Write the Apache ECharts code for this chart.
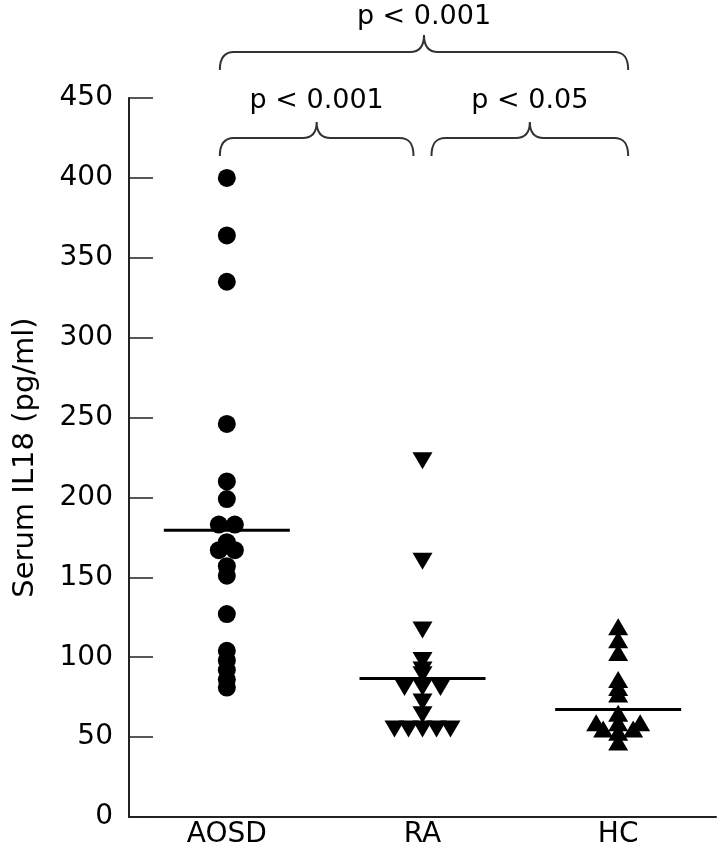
<!DOCTYPE html>
<html>
<head>
<meta charset="utf-8">
<script src="https://cdn.jsdelivr.net/npm/echarts@6/dist/echarts.min.js"></script>
<style>
  html, body { margin: 0; padding: 0; background: #fff; }
  #main { width: 722px; height: 853px; }
</style>
</head>
<body>
<div id="main"></div>
<script>
// groups on the x axis
var groups = ['AOSD', 'RA', 'HC'];
var yTicks = [0, 50, 100, 150, 200, 250, 300, 350, 400, 450];

// serum IL18 per patient (pg/ml)
var aosdVals = [400, 364, 335, 246, 210, 199, 183, 183, 172, 167, 167, 157, 151, 127, 104, 98, 92, 86, 81];
var raVals = [223, 160, 117, 98, 92, 89, 81, 81, 81, 72, 64, 55, 55, 55, 55, 55];
var hcVals = [119, 111, 103, 86, 81, 77, 65, 59, 53, 47, 59, 55, 55, 59];

// side-by-side spread of overlapping points (px)
var aosdShift = [0, 0, 0, 0, 0, 0, -8, 8, 0, -8, 8, 0, 0, 0, 0, 0, 0, 0, 0];
var raShift = [0, 0, 0, 0, 0, 0, -18, 0, 18, 0, 0, -28, -14, 0, 14, 28];
var hcShift = [0, 0, 0, 0, 0, 0, 0, 0, 0, 0, -22, -15, 15, 22];

// group means (horizontal bars)
var means = [179.5, 86.7, 67.3];

// p values between groups
var pLabels = ['p < 0.001', 'p < 0.001', 'p < 0.05'];

var FONT = '"DejaVu Sans"';
var INK = '#000';

function toItems(gi, vals, shift) {
  var out = [];
  for (var i = 0; i < vals.length; i++) {
    out.push({ value: [gi, vals[i]], symbolOffset: [shift[i], 0] });
  }
  return out;
}

// curly brace: ends drop down, cusp points up in the middle
function bracePath(x1, x2, xm, yLine, yTip, yEnd) {
  var r = 14;
  return 'M' + x1 + ',' + yEnd +
    ' C' + x1 + ',' + (yLine + 6) + ' ' + (x1 + 4) + ',' + yLine + ' ' + (x1 + r) + ',' + yLine +
    ' L' + (xm - 14) + ',' + yLine +
    ' C' + (xm - 6) + ',' + yLine + ' ' + xm + ',' + (yLine - 4) + ' ' + xm + ',' + yTip +
    ' C' + xm + ',' + (yLine - 4) + ' ' + (xm + 6) + ',' + yLine + ' ' + (xm + 14) + ',' + yLine +
    ' L' + (x2 - r) + ',' + yLine +
    ' C' + (x2 - 4) + ',' + yLine + ' ' + x2 + ',' + (yLine + 6) + ' ' + x2 + ',' + yEnd;
}

// brace spans: [from group, to group, left pad, right pad, level]
var braceSpans = [[0, 2, -7, 10, 0], [0, 1, -7, -9, 1], [1, 2, 9, 10, 1]];
var braceLevels = [
  { line: 52, tip: 35, end: 70, ty: 17 },
  { line: 138, tip: 122, end: 156, ty: 101 }
];

var chart = echarts.init(document.getElementById('main'));

var option = {
  backgroundColor: '#ffffff',
  animation: false,
  grid: { left: 129, right: 6, top: 98, bottom: 36 },
  xAxis: {
    type: 'category',
    data: groups,
    boundaryGap: true,
    axisLine: { lineStyle: { color: '#222', width: 2 } },
    axisTick: { inside: true, alignWithLabel: true, length: 24, lineStyle: { color: '#222', width: 1.5 } },
    axisLabel: { color: INK, fontFamily: FONT, fontSize: 28, margin: 4 },
    splitLine: { show: false }
  },
  yAxis: {
    type: 'value',
    min: 0,
    max: 450,
    interval: 50,
    name: 'Serum IL18 (pg/ml)',
    nameLocation: 'middle',
    nameGap: 89,
    nameTextStyle: { color: INK, fontFamily: FONT, fontSize: 29 },
    axisLine: { show: true, lineStyle: { color: '#222', width: 2 } },
    axisTick: { show: true, inside: true, length: 24, lineStyle: { color: '#222', width: 1.5 } },
    axisLabel: {
      color: INK, fontFamily: FONT, fontSize: 28, margin: 16, padding: [5, 0, 0, 0],
      formatter: function (v) { return yTicks.indexOf(v) >= 0 ? String(v) : ''; }
    },
    splitLine: { show: false }
  },
  series: [
    {
      type: 'scatter',
      symbol: 'circle',
      symbolSize: 18,
      itemStyle: { color: '#000', opacity: 1 },
      data: toItems(0, aosdVals, aosdShift)
    },
    {
      type: 'scatter',
      symbol: 'triangle',
      symbolRotate: 180,
      symbolSize: [20, 17],
      itemStyle: { color: '#000', opacity: 1 },
      data: toItems(1, raVals, raShift)
    },
    {
      type: 'scatter',
      symbol: 'triangle',
      symbolSize: [20, 17],
      itemStyle: { color: '#000', opacity: 1 },
      data: toItems(2, hcVals, hcShift)
    },
    {
      type: 'custom',
      z: 5,
      data: means.map(function (m, i) { return [i, m]; }),
      renderItem: function (params, api) {
        var c = api.coord([api.value(0), api.value(1)]);
        return {
          type: 'line',
          shape: { x1: c[0] - 63, y1: c[1], x2: c[0] + 63, y2: c[1] },
          style: { stroke: '#000', lineWidth: 3 }
        };
      }
    },
    {
      type: 'custom',
      coordinateSystem: 'cartesian2d',
      clip: false,
      silent: true,
      data: braceSpans.map(function (b, i) { return [b[0], b[1], i]; }),
      renderItem: function (params, api) {
        var b = braceSpans[params.dataIndex];
        var lv = braceLevels[b[4]];
        var x1 = api.coord([b[0], 0])[0] + b[2];
        var x2 = api.coord([b[1], 0])[0] + b[3];
        var xm = (x1 + x2) / 2;
        return {
          type: 'group',
          children: [
            {
              type: 'path',
              shape: { pathData: bracePath(x1, x2, xm, lv.line, lv.tip, lv.end) },
              style: { fill: 'none', stroke: '#333', lineWidth: 2 }
            },
            {
              type: 'text',
              x: xm,
              y: lv.ty,
              style: {
                text: pLabels[params.dataIndex], fill: INK, font: '27px ' + FONT,
                align: 'center', verticalAlign: 'middle'
              }
            }
          ]
        };
      }
    }
  ]
};

chart.setOption(option);
</script>
</body>
</html>
